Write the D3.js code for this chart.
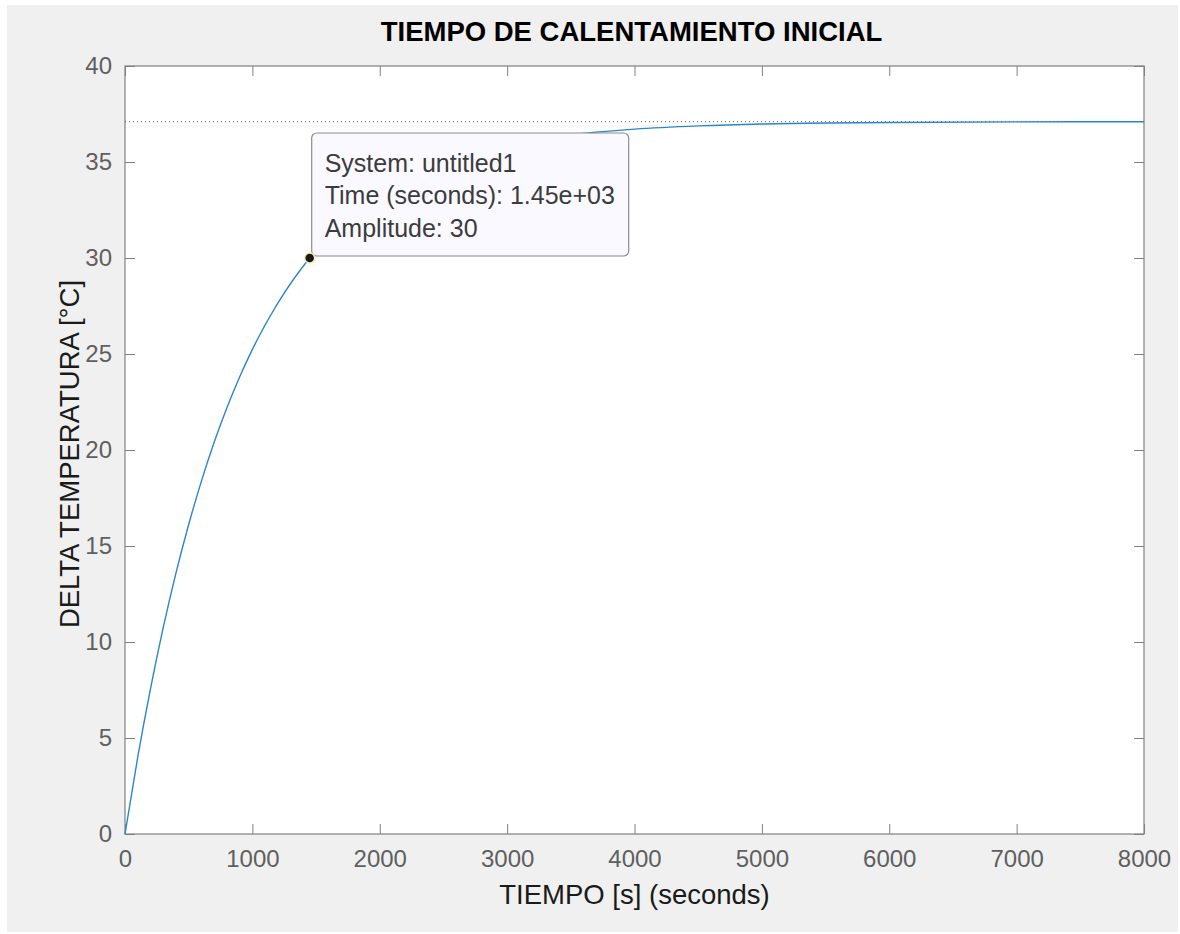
<!DOCTYPE html>
<html>
<head>
<meta charset="utf-8">
<script src="https://cdn.jsdelivr.net/npm/d3@7"></script>
<style>
  body { margin: 0; background: #fff; }
  text { font-family: "Liberation Sans", Arial, sans-serif; }
</style>
</head>
<body>
<div id="body"></div>
<script>
// step response
var times = [0, 100, 200, 300, 400, 500, 600, 700, 800, 900, 1000, 1200, 1450, 1600, 1800,
             2000, 2250, 2500, 2750, 3000, 3500, 4000, 4500, 5000, 5500, 6000, 7000, 8000];
var amplitude = [0, 4.00, 7.56, 10.75, 13.59, 16.12, 18.38, 20.40, 22.20, 23.80, 25.24, 27.65, 30.00, 31.12, 32.34,
                 33.30, 34.25, 34.96, 35.49, 35.89, 36.41, 36.71, 36.88, 36.98, 37.03, 37.06, 37.09, 37.10];
var finalValue = 37.1;
var xTicks = [0, 1000, 2000, 3000, 4000, 5000, 6000, 7000, 8000];
var yTicks = [0, 5, 10, 15, 20, 25, 30, 35, 40];
var marker = { t: 1450, a: 30 };
var tipLines = ["System: untitled1", "Time (seconds): 1.45e+03", "Amplitude: 30"];

var W = 1180, H = 934;
var margin = { top: 66, right: 36, bottom: 100, left: 125 },
    width = 1144 - margin.left,
    height = 834 - margin.top;

var svg = d3.select("#body").append("svg")
    .attr("width", W)
    .attr("height", H);

svg.append("rect")
    .attr("x", 7).attr("y", 5)
    .attr("width", W - 9).attr("height", H - 7)
    .attr("fill", "#f0f0f0");

var g = svg.append("g")
    .attr("transform", "translate(" + margin.left + "," + margin.top + ")");

var x = d3.scaleLinear().domain([0, 8000]).range([0, width]);
var y = d3.scaleLinear().domain([0, 40]).range([height, 0]);

g.append("rect")
    .attr("width", width).attr("height", height)
    .attr("fill", "#fff");

// ticks on all four sides, pointing inward
function styleAxis(sel, showLabels) {
    sel.select(".domain").remove();
    sel.selectAll(".tick line").attr("stroke", "#808080").attr("stroke-width", 1);
    sel.selectAll(".tick text")
        .attr("fill", "#5f5f5f")
        .style("font-size", "24px")
        .style("display", showLabels ? null : "none");
}

g.append("g")
    .attr("transform", "translate(0," + height + ")")
    .call(d3.axisBottom(x).tickValues(xTicks).tickSize(-10).tickPadding(16).tickFormat(d3.format("d")))
    .call(s => styleAxis(s, true));

g.append("g")
    .call(d3.axisTop(x).tickValues(xTicks).tickSize(-10))
    .call(s => styleAxis(s, false));

g.append("g")
    .call(d3.axisLeft(y).tickValues(yTicks).tickSize(-10).tickPadding(13))
    .call(s => styleAxis(s, true));

g.append("g")
    .attr("transform", "translate(" + width + ",0)")
    .call(d3.axisRight(y).tickValues(yTicks).tickSize(-10))
    .call(s => styleAxis(s, false));

g.append("rect")
    .attr("width", width).attr("height", height)
    .attr("fill", "none")
    .attr("stroke", "#808080")
    .attr("stroke-width", 1.2);

// steady-state dotted line
g.append("line")
    .attr("x1", 0).attr("x2", width)
    .attr("y1", y(finalValue)).attr("y2", y(finalValue))
    .attr("stroke", "#666")
    .attr("stroke-width", 1)
    .attr("stroke-dasharray", "1,3");

var line = d3.line()
    .x((d, i) => x(times[i]))
    .y(d => y(d))
    .curve(d3.curveMonotoneX);

g.append("path")
    .datum(amplitude)
    .attr("fill", "none")
    .attr("stroke", "#2a86cc")
    .attr("stroke-width", 1.4)
    .attr("d", line);

// data tip
var mx = x(marker.t), my = y(marker.a);
var tip = g.append("g");
tip.append("rect")
    .attr("x", mx + 2).attr("y", my - 125)
    .attr("width", 317).attr("height", 123)
    .attr("rx", 5)
    .attr("fill", "#f9f9ff")
    .attr("stroke", "#8c8c8c")
    .attr("stroke-width", 1.2);

tip.selectAll("text")
    .data(tipLines)
    .enter().append("text")
    .attr("x", mx + 15)
    .attr("y", (d, i) => my - 86 + i * 32.3)
    .attr("fill", "#3c3c3c")
    .style("font-size", "25px")
    .text(d => d);

g.append("circle")
    .attr("cx", mx).attr("cy", my)
    .attr("r", 5)
    .attr("fill", "#1a1a1a")
    .attr("stroke", "#f5f0b0")
    .attr("stroke-width", 1.5);

// titles
svg.append("text")
    .attr("x", margin.left + width / 2 - 3)
    .attr("y", 41)
    .attr("text-anchor", "middle")
    .style("font-size", "27.5px")
    .style("font-weight", "bold")
    .attr("fill", "#000")
    .text("TIEMPO DE CALENTAMIENTO INICIAL");

svg.append("text")
    .attr("x", margin.left + width / 2)
    .attr("y", 904)
    .attr("text-anchor", "middle")
    .style("font-size", "27.5px")
    .attr("fill", "#1a1a1a")
    .text("TIEMPO [s] (seconds)");

svg.append("text")
    .attr("transform", "translate(79," + (margin.top + height / 2 + 4) + ") rotate(-90)")
    .attr("text-anchor", "middle")
    .style("font-size", "27.5px")
    .attr("fill", "#1a1a1a")
    .text("DELTA TEMPERATURA [°C]");
</script>
</body>
</html>
